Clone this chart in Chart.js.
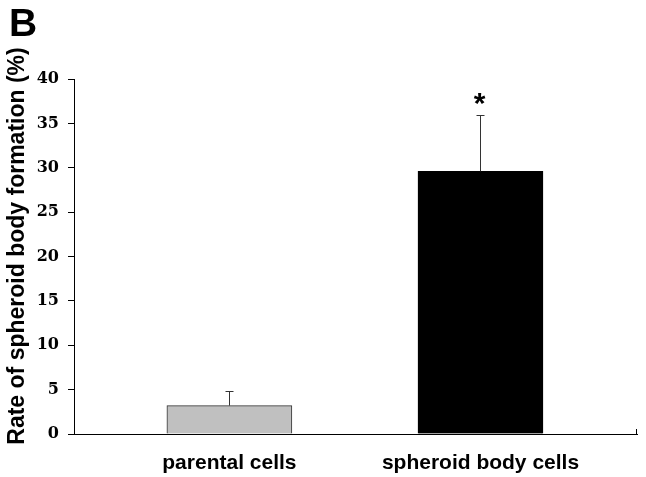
<!DOCTYPE html>
<html>
<head>
<meta charset="utf-8">
<script src="https://cdn.jsdelivr.net/npm/chart.js"></script>
<style>
  body { margin: 0; background: #fff; }
  canvas { display: block; }
</style>
</head>
<body>
<canvas id="spheroidChart" width="646" height="477"></canvas>
<script>
const categories = ['parental cells', 'spheroid body cells'];
const rates = [3.2, 29.6];
const errors = [1.6, 6.3];
const marks = ['', '*'];
const yTicks = [0, 5, 10, 15, 20, 25, 30, 35, 40];
const yTitle = 'Rate of spheroid body formation (%)';

// where the bars sit along the x axis (0..1), not centred in the original
const barPos = [0.276, 0.722];

const extras = {
  id: 'extras',
  afterDatasetsDraw(chart) {
    const c = chart.ctx;
    const xs = chart.scales.x;
    const ys = chart.scales.y;
    c.save();
    c.strokeStyle = '#333';
    c.lineWidth = 1;
    rates.forEach((v, i) => {
      const x = Math.round(xs.getPixelForValue(barPos[i])) + 0.5;
      const yBar = ys.getPixelForValue(v);
      const yTop = Math.round(ys.getPixelForValue(v + errors[i])) + 0.5;
      c.beginPath();
      c.moveTo(x, yBar);
      c.lineTo(x, yTop);
      c.moveTo(x - 4, yTop);
      c.lineTo(x + 4, yTop);
      c.stroke();
      if (marks[i]) {
        c.fillStyle = '#000';
        c.font = 'bold 30px "Liberation Sans", Arial, sans-serif';
        c.textAlign = 'center';
        c.textBaseline = 'middle';
        c.fillText(marks[i], x - 1, yTop - 11);
      }
    });
    // small tick at the right end of the x axis
    const a = chart.chartArea;
    c.strokeStyle = '#000';
    c.beginPath();
    c.moveTo(a.right - 0.5, a.bottom);
    c.lineTo(a.right - 0.5, a.bottom - 5);
    c.stroke();
    // y axis title
    c.fillStyle = '#000';
    c.font = 'bold 23px "Liberation Sans", Arial, sans-serif';
    c.textAlign = 'center';
    c.textBaseline = 'middle';
    c.translate(18, 246);
    c.rotate(-Math.PI / 2);
    c.fillText(yTitle, 0, 0);
    c.restore();
    // panel letter
    c.save();
    c.fillStyle = '#000';
    c.font = 'bold 39px "Liberation Sans", Arial, sans-serif';
    c.textAlign = 'left';
    c.textBaseline = 'alphabetic';
    c.fillText('B', 9, 36);
    c.restore();
  }
};

new Chart(document.getElementById('spheroidChart'), {
  type: 'bar',
  data: {
    datasets: [{
      data: rates.map((v, i) => ({ x: barPos[i], y: v })),
      backgroundColor: ['#c0c0c0', '#000000'],
      borderColor: ['#333333', '#000000'],
      borderWidth: 1,
      barThickness: 125
    }]
  },
  options: {
    responsive: false,
    animation: false,
    layout: { padding: { top: 79, right: 9, left: 0, bottom: 0 } },
    plugins: { legend: { display: false }, tooltip: { enabled: false } },
    scales: {
      x: {
        type: 'linear',
        offset: false,
        min: 0,
        max: 1,
        afterBuildTicks: s => { s.ticks = barPos.map(v => ({ value: v })); },
        afterFit: s => { s.height = 43; },
        grid: { display: false },
        border: { display: true, color: '#000', width: 1 },
        ticks: {
          autoSkip: false,
          maxRotation: 0,
          padding: 9,
          color: '#000',
          font: { family: '"Liberation Sans", Arial, sans-serif', size: 21, weight: 'bold' },
          callback: (v, i) => categories[i]
        }
      },
      y: {
        min: 0,
        max: 40,
        afterBuildTicks: s => { s.ticks = yTicks.map(v => ({ value: v })); },
        afterFit: s => { s.width = 74; },
        grid: { drawOnChartArea: false, drawTicks: true, tickLength: 6, color: '#000' },
        border: { display: true, color: '#000', width: 1 },
        ticks: {
          padding: 9,
          color: '#000',
          font: { family: '"DejaVu Serif", serif', size: 16, weight: 'bold' }
        }
      }
    }
  },
  plugins: [extras]
});
</script>
</body>
</html>
